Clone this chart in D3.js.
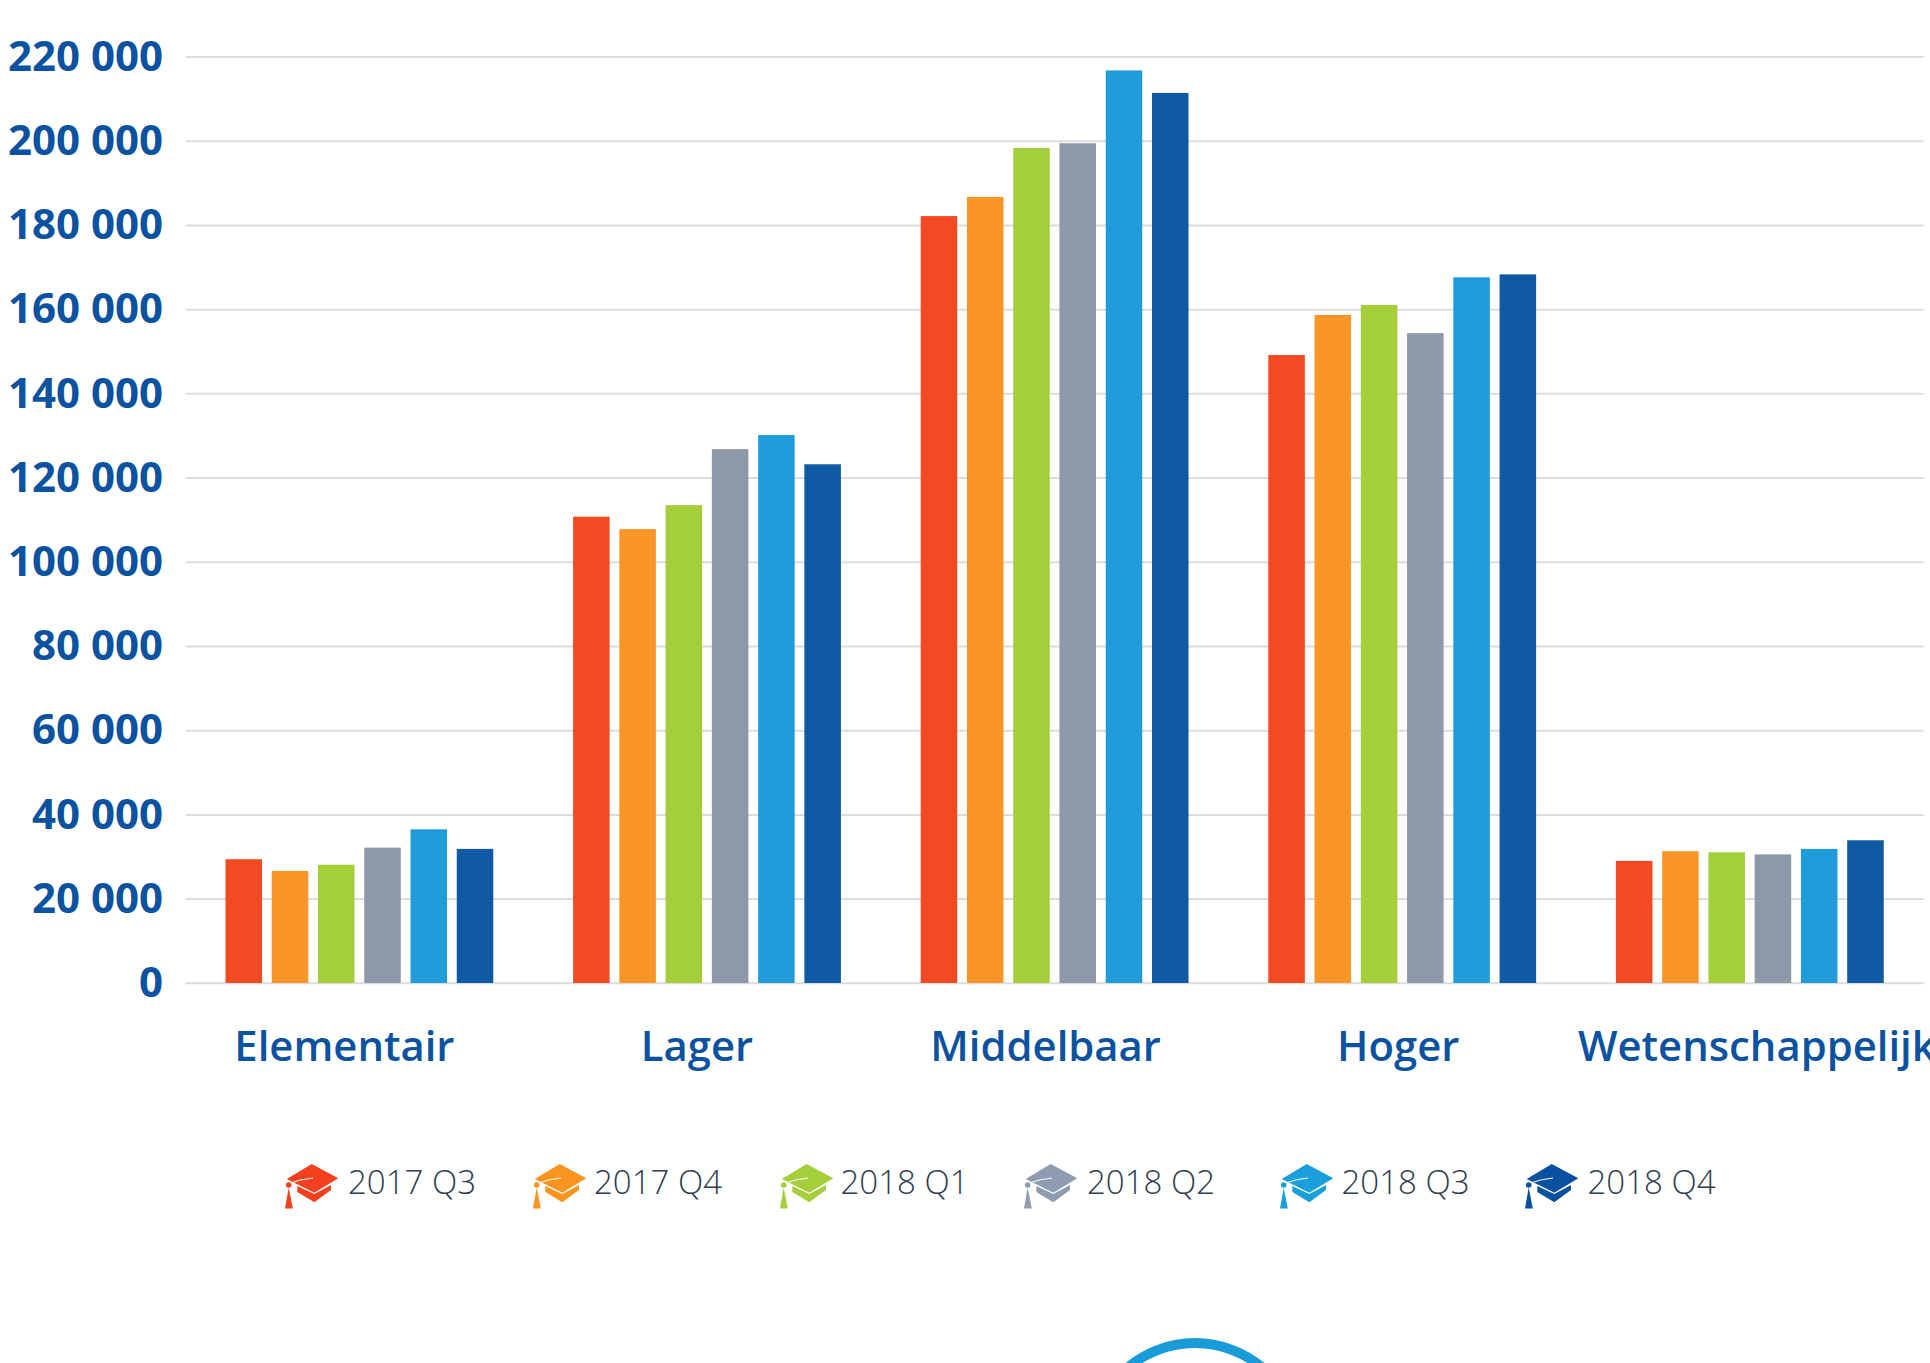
<!DOCTYPE html>
<html><head><meta charset="utf-8">
<script src="https://cdn.jsdelivr.net/npm/d3@7"></script>
<style>
html,body{margin:0;padding:0;background:#fff;overflow:hidden}
svg{display:block}
</style></head><body><svg id="c" width="1930" height="1363"></svg>
<script>
const categories = ["Elementair","Lager","Middelbaar","Hoger","Wetenschappelijk"];
const seriesNames = ["2017 Q3","2017 Q4","2018 Q1","2018 Q2","2018 Q3","2018 Q4"];
const q3_2017 = [29400,110750,182150,149150,29000];
const q4_2017 = [26600,107800,186700,158650,31300];
const q1_2018 = [28100,113500,198300,161050,31050];
const q2_2018 = [32150,126800,199450,154350,30550];
const q3_2018 = [36500,130150,216750,167600,31850];
const q4_2018 = [31850,123200,211400,168300,33900];
const seriesValues = [q3_2017,q4_2017,q1_2018,q2_2018,q3_2018,q4_2018];
const yTicks = [0,20000,40000,60000,80000,100000,120000,140000,160000,180000,200000,220000];

const barColors = ["#f24b23","#fa9528","#a5ce3b","#8d98a9","#1f9cd9","#1059a4"];
const capColors = ["#f4401f","#f9951f","#a5ce3b","#8f9bb0","#1a9fdc","#0a50a0"];
const labelColor = "#0b52a0", legendColor = "#2f3d4f";
const labelDx = [-15,-10,-9,-4,7];
const legendIconX = [285,533,780,1024,1280,1525];
const legendTextX = [348,594,840.5,1087,1341.5,1587.5];

const svg = d3.select("#c");
const x0 = d3.scaleBand().domain(categories).range([185.6,1923.6]).paddingInner(0.2295).paddingOuter(0.1147);
const x1 = d3.scaleBand().domain(seriesNames).range([0,x0.bandwidth()]).paddingInner(0.21);
const y = d3.scaleLinear().domain([0,220000]).range([983,56.7]);
const fmt = v => d3.format(",")(v).replace(/,/g," ");

// grid
svg.append("g").selectAll("line").data(yTicks).join("line")
  .attr("x1",185.6).attr("x2",1923.6).attr("y1",d=>y(d)+0.3).attr("y2",d=>y(d)+0.3)
  .attr("stroke","#dcdcdc").attr("stroke-width",2);

// y labels
svg.append("g").selectAll("text").data(yTicks).join("text")
  .attr("x",163).attr("y",d=>y(d)+14).attr("text-anchor","end")
  .attr("font-family","'Open Sans'").attr("font-weight",700).attr("font-size",42)
  .attr("fill",labelColor).text(fmt);

// bars
seriesValues.forEach((vals,s)=>{
  svg.append("g").selectAll("rect").data(vals).join("rect")
    .attr("x",(d,i)=>x0(categories[i])+x1(seriesNames[s]))
    .attr("width",x1.bandwidth())
    .attr("y",d=>y(d)).attr("height",d=>y(0)-y(d))
    .attr("fill",barColors[s]);
});

// category labels
svg.append("g").selectAll("text").data(categories).join("text")
  .attr("x",(d,i)=>x0(d)+x0.bandwidth()/2+labelDx[i]).attr("y",1060.7).attr("text-anchor","middle")
  .attr("font-family","'Open Sans'").attr("font-weight",600).attr("font-size",41.8)
  .attr("fill",labelColor).text(d=>d);

// legend
const board="M26.7 0L53.3 14.3L29.3 28.7L1.7 15Z";
const lower="M12.3 22L29.3 30L46 21L46 26L29.3 38.3L12.3 28Z";
const sheen="M4 19.5Q16 15 28 14";
const tassel="M3.7 23.5L0 44.5L7.8 44.5Z";
seriesNames.forEach((n,i)=>{
  const g=svg.append("g").attr("transform",`translate(${legendIconX[i]},1164)`);
  g.append("path").attr("d",lower).attr("fill",capColors[i]);
  g.append("path").attr("d",board).attr("fill",capColors[i]);
  g.append("path").attr("d",sheen).attr("fill","none").attr("stroke","#fff").attr("stroke-width",1);
  g.append("path").attr("d",tassel).attr("fill",capColors[i]);
  g.append("circle").attr("cx",3.7).attr("cy",21).attr("r",2.8).attr("fill",capColors[i]);
  svg.append("text").attr("x",legendTextX[i]).attr("y",1194)
    .attr("font-family","'Open Sans'").attr("font-weight",300).attr("font-size",33)
    .attr("fill",legendColor).text(n);
});

// partial circle at page bottom
svg.append("circle").attr("cx",1195).attr("cy",1447).attr("r",104)
  .attr("fill","none").attr("stroke","#1a9cd8").attr("stroke-width",10);
</script></body></html>
